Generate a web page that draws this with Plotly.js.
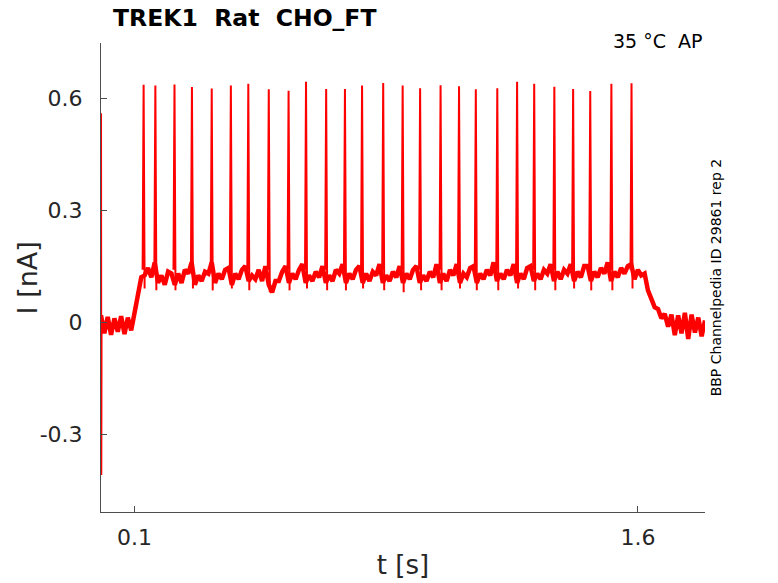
<!DOCTYPE html>
<html>
<head>
<meta charset="utf-8">
<script src="https://cdn.plot.ly/plotly-3.0.1.min.js"></script>
<style>
  body{margin:0;background:#fff}
  #plot{width:778px;height:583px}
</style>
</head>
<body>
<div id="plot"></div>
<script>
// sampled current, one value every 10 ms from t=0 s
var sampleStep = 0.01
var baseCurrent = [
  0.018, -0.03, 0.014, -0.034, 0.01, -0.026, 0.016, -0.032, 0.012, -0.022,
  0.025, 0.07, 0.12, 0.125, 0.145, 0.12, 0.16, 0.105, 0.125, 0.1,
  0.135, 0.13, 0.1, 0.13, 0.105, 0.14, 0.13, 0.16, 0.1, 0.125,
  0.11, 0.135, 0.13, 0.16, 0.105, 0.13, 0.115, 0.14, 0.145, 0.1,
  0.13, 0.115, 0.14, 0.15, 0.11, 0.125, 0.115, 0.14, 0.11, 0.15,
  0.1, 0.08, 0.11, 0.11, 0.135, 0.15, 0.105, 0.13, 0.115, 0.14,
  0.155, 0.105, 0.125, 0.11, 0.135, 0.12, 0.15, 0.105, 0.125, 0.11,
  0.14, 0.13, 0.155, 0.105, 0.13, 0.115, 0.14, 0.15, 0.105, 0.13,
  0.11, 0.135, 0.125, 0.155, 0.105, 0.125, 0.11, 0.135, 0.12, 0.15,
  0.105, 0.13, 0.115, 0.14, 0.15, 0.105, 0.125, 0.11, 0.135, 0.12,
  0.155, 0.105, 0.13, 0.11, 0.14, 0.125, 0.155, 0.105, 0.13, 0.12,
  0.145, 0.15, 0.105, 0.13, 0.115, 0.14, 0.125, 0.16, 0.11, 0.13,
  0.115, 0.14, 0.125, 0.155, 0.105, 0.13, 0.115, 0.145, 0.15, 0.11,
  0.13, 0.115, 0.14, 0.13, 0.155, 0.11, 0.135, 0.115, 0.14, 0.13,
  0.155, 0.11, 0.135, 0.12, 0.15, 0.15, 0.11, 0.135, 0.12, 0.145,
  0.13, 0.16, 0.11, 0.135, 0.12, 0.145, 0.13, 0.15, 0.155, 0.115,
  0.14, 0.125, 0.13, 0.085, 0.065, 0.04, 0.035, 0.01, 0.022, -0.012,
  0.02, -0.035, 0.018, -0.03, 0.025, -0.045, 0.02, -0.028, 0.012, -0.038,
  0.004
]

// action potential currents
var spikeT = [0.127, 0.162, 0.219, 0.271, 0.330, 0.387, 0.439, 0.500, 0.559, 0.611,
  0.671, 0.727, 0.778, 0.841, 0.899, 0.951, 1.012, 1.067, 1.117, 1.181,
  1.240, 1.291, 1.351, 1.407, 1.458, 1.521, 1.581]
var spikePeak = [0.636, 0.634, 0.637, 0.630, 0.626, 0.634, 0.639, 0.624, 0.620, 0.644,
  0.625, 0.625, 0.634, 0.641, 0.634, 0.627, 0.635, 0.632, 0.624, 0.627,
  0.644, 0.639, 0.631, 0.625, 0.619, 0.639, 0.640]
var spikeTrough = [0.09, 0.085, 0.085, 0.09, 0.085, 0.09, 0.085, 0.08, 0.085, 0.09,
  0.085, 0.085, 0.09, 0.085, 0.08, 0.085, 0.085, 0.09, 0.085, 0.085,
  0.09, 0.085, 0.085, 0.09, 0.085, 0.085, 0.09]

// capacitive artefact at the start
var artT = [0.0, 0.0008, 0.0016, 0.0024]
var artV = [0.0, 0.56, -0.41, 0.0]

var xTicks = [0.1, 1.6]
var yTicks = [-0.3, 0, 0.3, 0.6]
var yTickText = ["-0.3", "0", "0.3", "0.6"]

var baseT = []
for (var i = 0; i < baseCurrent.length; i++) { baseT.push(+(i * sampleStep).toFixed(3)) }

var sx = [], sy = []
for (var k = 0; k < spikeT.length; k++) {
  sx.push(spikeT[k] - 0.003, spikeT[k], spikeT[k] + 0.003, null)
  sy.push(0.14, spikePeak[k], spikeTrough[k], null)
}

var red = '#ff0000'
var traces = [
  {x: baseT, y: baseCurrent, mode: 'lines', type: 'scatter', line: {color: red, width: 4.5}, hoverinfo: 'skip'},
  {x: sx, y: sy, mode: 'lines', type: 'scatter', line: {color: red, width: 2}, connectgaps: false, hoverinfo: 'skip'},
  {x: artT, y: artV, mode: 'lines', type: 'scatter', line: {color: red, width: 1.5}, hoverinfo: 'skip'}
]

var nb = '\u00a0'
var axColor = '#4d4d4d', txtColor = '#262626'
var layout = {
  width: 778, height: 583,
  margin: {l: 101, r: 73, t: 43, b: 71, pad: 0},
  paper_bgcolor: '#fff', plot_bgcolor: '#fff',
  showlegend: false,
  font: {family: 'DejaVu Sans', color: txtColor},
  title: {
    text: '<b>TREK1' + nb + nb + 'Rat' + nb + nb + 'CHO_FT</b>',
    font: {family: 'DejaVu Sans', size: 23.5, color: '#000'},
    xref: 'paper', x: 0.02, xanchor: 'left',
    yref: 'container', y: 0.97, yanchor: 'middle'
  },
  xaxis: {
    range: [0, 1.8], showline: true, linecolor: axColor, linewidth: 1,
    ticks: 'inside', ticklen: 6, tickcolor: axColor,
    tickvals: xTicks, ticktext: ['0.1', '1.6'],
    tickfont: {size: 22, color: txtColor}, ticklabelstandoff: 6,
    showgrid: false, zeroline: false, mirror: false,
    title: {text: 't [s]', font: {size: 26, color: txtColor}, standoff: 6}
  },
  yaxis: {
    range: [-0.509, 0.748], showline: true, linecolor: axColor, linewidth: 1,
    ticks: 'inside', ticklen: 6, tickcolor: axColor,
    tickvals: yTicks, ticktext: yTickText,
    tickfont: {size: 22, color: txtColor}, ticklabelstandoff: 13,
    showgrid: false, zeroline: false,
    title: {text: ''}
  },
  annotations: [
    {text: 'I [nA]', xref: 'paper', yref: 'paper', x: -0.121, y: 0.5,
     xanchor: 'center', yanchor: 'middle', textangle: -90, showarrow: false, font: {size: 27, color: txtColor}},
    {text: '35 °C' + nb + nb + 'AP', xref: 'paper', yref: 'paper', x: 1, y: 1.004,
     xanchor: 'right', yanchor: 'middle', showarrow: false, font: {size: 19, color: '#000'}},
    {text: 'BBP Channelpedia ID 29861 rep 2', xref: 'paper', yref: 'paper', x: 1.018, y: 0.5,
     xanchor: 'center', yanchor: 'middle', textangle: -90, showarrow: false, font: {size: 14, color: '#000'}}
  ]
}

Plotly.newPlot('plot', traces, layout, {displayModeBar: false, staticPlot: true})
</script>
</body>
</html>
